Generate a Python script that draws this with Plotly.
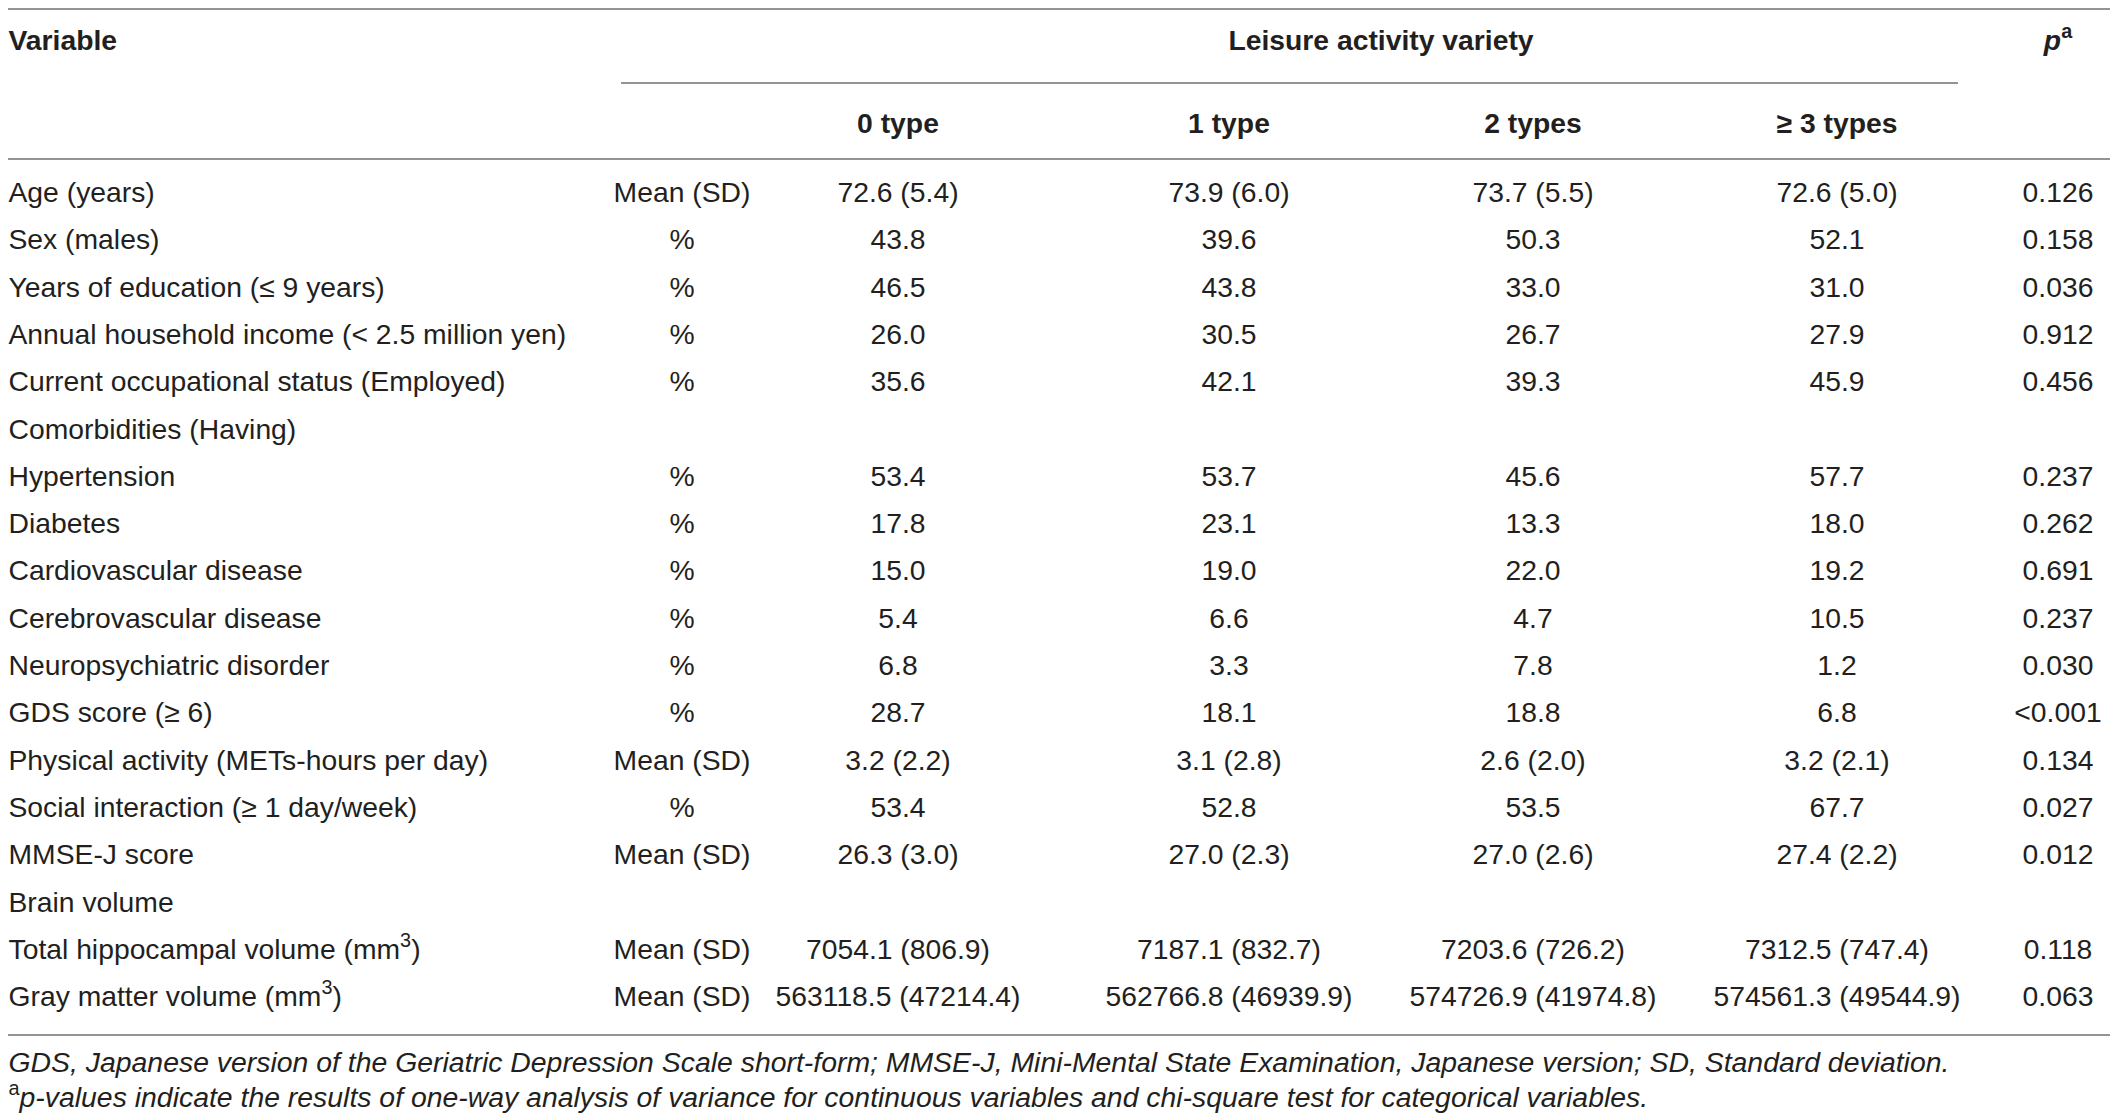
import plotly.graph_objects as go

# table content
variables = [
    "Age (years)", "Sex (males)", "Years of education (≤ 9 years)",
    "Annual household income (< 2.5 million yen)",
    "Current occupational status (Employed)", "Comorbidities (Having)",
    "Hypertension", "Diabetes", "Cardiovascular disease",
    "Cerebrovascular disease", "Neuropsychiatric disorder", "GDS score (≥ 6)",
    "Physical activity (METs-hours per day)", "Social interaction (≥ 1 day/week)",
    "MMSE-J score", "Brain volume",
    "Total hippocampal volume (mm<sup>3</sup>)", "Gray matter volume (mm<sup>3</sup>)",
]
stat_type = ["Mean (SD)", "%", "%", "%", "%", "", "%", "%", "%", "%", "%", "%",
             "Mean (SD)", "%", "Mean (SD)", "", "Mean (SD)", "Mean (SD)"]
type_0 = ["72.6 (5.4)", "43.8", "46.5", "26.0", "35.6", "", "53.4", "17.8", "15.0",
          "5.4", "6.8", "28.7", "3.2 (2.2)", "53.4", "26.3 (3.0)", "",
          "7054.1 (806.9)", "563118.5 (47214.4)"]
type_1 = ["73.9 (6.0)", "39.6", "43.8", "30.5", "42.1", "", "53.7", "23.1", "19.0",
          "6.6", "3.3", "18.1", "3.1 (2.8)", "52.8", "27.0 (2.3)", "",
          "7187.1 (832.7)", "562766.8 (46939.9)"]
type_2 = ["73.7 (5.5)", "50.3", "33.0", "26.7", "39.3", "", "45.6", "13.3", "22.0",
          "4.7", "7.8", "18.8", "2.6 (2.0)", "53.5", "27.0 (2.6)", "",
          "7203.6 (726.2)", "574726.9 (41974.8)"]
type_3plus = ["72.6 (5.0)", "52.1", "31.0", "27.9", "45.9", "", "57.7", "18.0", "19.2",
              "10.5", "1.2", "6.8", "3.2 (2.1)", "67.7", "27.4 (2.2)", "",
              "7312.5 (747.4)", "574561.3 (49544.9)"]
p_values = ["0.126", "0.158", "0.036", "0.912", "0.456", "", "0.237", "0.262", "0.691",
            "0.237", "0.030", "<0.001", "0.134", "0.027", "0.012", "", "0.118", "0.063"]
group_labels = ["0 type", "1 type", "2 types", "≥ 3 types"]

footnotes = [
    "<i>GDS, Japanese version of the Geriatric Depression Scale short-form; MMSE-J, "
    "Mini-Mental State Examination, Japanese version; SD, Standard deviation.</i>",
    "<sup>a</sup><i>p-values indicate the results of one-way analysis of variance for "
    "continuous variables and chi-square test for categorical variables.</i>",
]

W, H = 2118, 1120
OFF = 8  # page body margin, so axis units equal page pixels
FONT = "Liberation Sans, Arial, sans-serif"
TXT = "#231f20"
LINE = "#707070"
FS = 28.3
LEFT = 8.5

col_x = [682, 898, 1229, 1533, 1837, 2058]
row_y = [195 + i * 47.3 for i in range(len(variables))]
font = dict(family=FONT, size=FS, color=TXT)
foot_font = dict(family=FONT, size=28.4, color=TXT)


def text_trace(x, y, text, pos="middle center", tf=font):
    return go.Scatter(x=x, y=y, text=text, mode="text", textposition=pos,
                      hoverinfo="skip", textfont=tf, cliponaxis=False)


fig = go.Figure()

# first column, left aligned
fig.add_trace(text_trace([LEFT] * len(variables), row_y, variables, "middle right"))

for cx, col in zip(col_x, [stat_type, type_0, type_1, type_2, type_3plus, p_values]):
    fig.add_trace(text_trace([cx] * len(col), row_y, col))

# header texts
fig.add_trace(text_trace([LEFT], [43], ["<b>Variable</b>"], "middle right"))
fig.add_trace(text_trace([1381, col_x[5]], [43, 43],
                         ["<b>Leisure activity variety</b>", "<b><i>p</i><sup>a</sup></b>"]))
fig.add_trace(text_trace(col_x[1:5], [126] * 4, ["<b>%s</b>" % g for g in group_labels]))

# footnotes
fig.add_trace(text_trace([LEFT, LEFT], [1065, 1100], footnotes, "middle right", foot_font))

# rules
for x0, x1, y in [(0, W + OFF, 9), (621, 1958, 83), (0, W + OFF, 159), (0, W + OFF, 1035)]:
    fig.add_shape(type="line", x0=x0, x1=x1, y0=y, y1=y, xref="x", yref="y",
                  line=dict(color=LINE, width=1.6))

fig.update_layout(
    width=W, height=H, showlegend=False,
    margin=dict(l=0, r=0, t=0, b=0),
    paper_bgcolor="white", plot_bgcolor="white",
    xaxis=dict(range=[OFF, W + OFF], visible=False, fixedrange=True),
    yaxis=dict(range=[H + OFF, OFF], visible=False, fixedrange=True),
)

fig.write_html("out.html")
